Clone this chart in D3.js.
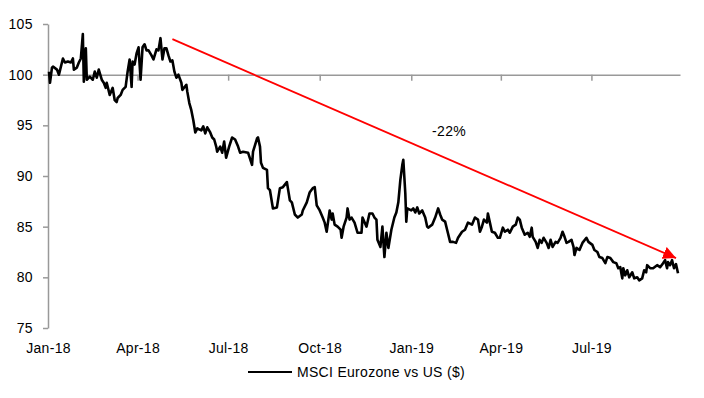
<!DOCTYPE html>
<html>
<head>
<meta charset="utf-8">
<script src="https://cdn.jsdelivr.net/npm/d3@7"></script>
<style>
  body { margin: 0; background: #fff; }
  svg { display: block; font-family: "Liberation Sans", Arial, sans-serif; }
</style>
</head>
<body>
<svg id="chart" width="704" height="398"></svg>
<script>
// MSCI Eurozone vs US ($)
const dates = [
  "2018-01-02","2018-01-03","2018-01-05","2018-01-06","2018-01-10","2018-01-12","2018-01-15","2018-01-16","2018-01-18","2018-01-21",
  "2018-01-24","2018-01-26","2018-01-27","2018-01-30","2018-02-01","2018-02-03","2018-02-05","2018-02-06","2018-02-08","2018-02-09",
  "2018-02-12","2018-02-15","2018-02-17","2018-02-19","2018-02-21","2018-02-24","2018-02-26","2018-02-28","2018-03-01","2018-03-04",
  "2018-03-07","2018-03-09","2018-03-11","2018-03-12","2018-03-15","2018-03-17","2018-03-20","2018-03-22","2018-03-24","2018-03-26",
  "2018-03-27","2018-03-29","2018-03-31","2018-04-02","2018-04-04","2018-04-06","2018-04-08","2018-04-10","2018-04-12","2018-04-15",
  "2018-04-17","2018-04-20","2018-04-22","2018-04-24","2018-04-26","2018-04-28","2018-04-30","2018-05-02","2018-05-04","2018-05-06",
  "2018-05-08","2018-05-10","2018-05-12","2018-05-15","2018-05-16","2018-05-20","2018-05-21","2018-05-23","2018-05-25","2018-05-27",
  "2018-05-29","2018-05-31","2018-06-04","2018-06-06","2018-06-08","2018-06-10","2018-06-13","2018-06-15","2018-06-17","2018-06-19",
  "2018-06-20","2018-06-23","2018-06-25","2018-06-27","2018-06-29","2018-07-02","2018-07-05","2018-07-08","2018-07-11","2018-07-13",
  "2018-07-16","2018-07-21","2018-07-25","2018-07-26","2018-07-30","2018-07-31","2018-08-02","2018-08-03","2018-08-05","2018-08-09",
  "2018-08-10","2018-08-12","2018-08-15","2018-08-19","2018-08-22","2018-08-25","2018-08-29","2018-08-30","2018-09-01","2018-09-03",
  "2018-09-06","2018-09-09","2018-09-13","2018-09-14","2018-09-18","2018-09-21","2018-09-24","2018-09-26","2018-09-28","2018-10-01",
  "2018-10-04","2018-10-06","2018-10-08","2018-10-09","2018-10-11","2018-10-13","2018-10-14","2018-10-16","2018-10-19","2018-10-22",
  "2018-10-23","2018-10-25","2018-10-28","2018-10-29","2018-10-31","2018-11-02","2018-11-05","2018-11-08","2018-11-12","2018-11-13",
  "2018-11-17","2018-11-20","2018-11-23","2018-11-25","2018-11-27","2018-11-28","2018-12-01","2018-12-03","2018-12-05","2018-12-07",
  "2018-12-09","2018-12-12","2018-12-15","2018-12-17","2018-12-19","2018-12-21","2018-12-23","2018-12-24","2018-12-26","2018-12-27",
  "2018-12-28","2019-01-01","2019-01-03","2019-01-05","2019-01-07","2019-01-09","2019-01-12","2019-01-15","2019-01-17","2019-01-18",
  "2019-01-22","2019-01-25","2019-01-28","2019-01-30","2019-02-01","2019-02-04","2019-02-06","2019-02-09","2019-02-12","2019-02-15",
  "2019-02-17","2019-02-21","2019-02-24","2019-02-27","2019-03-03","2019-03-06","2019-03-09","2019-03-11","2019-03-13","2019-03-15",
  "2019-03-18","2019-03-19","2019-03-21","2019-03-23","2019-03-26","2019-03-29","2019-03-31","2019-04-03","2019-04-05","2019-04-08",
  "2019-04-10","2019-04-13","2019-04-16","2019-04-18","2019-04-20","2019-04-22","2019-04-25","2019-04-28","2019-04-30","2019-05-02",
  "2019-05-03","2019-05-06","2019-05-08","2019-05-10","2019-05-12","2019-05-14","2019-05-17","2019-05-19","2019-05-21","2019-05-23",
  "2019-05-26","2019-05-28","2019-05-31","2019-06-02","2019-06-04","2019-06-06","2019-06-08","2019-06-11","2019-06-13","2019-06-14",
  "2019-06-16","2019-06-19","2019-06-22","2019-06-26","2019-06-28","2019-07-02","2019-07-04","2019-07-07","2019-07-09","2019-07-12",
  "2019-07-15","2019-07-17","2019-07-20","2019-07-23","2019-07-26","2019-07-28","2019-07-30","2019-08-01","2019-08-02","2019-08-04",
  "2019-08-06","2019-08-08","2019-08-11","2019-08-13","2019-08-16","2019-08-18","2019-08-21","2019-08-23","2019-08-25","2019-08-26",
  "2019-08-29","2019-09-01","2019-09-05","2019-09-08","2019-09-11","2019-09-13","2019-09-15","2019-09-16","2019-09-18","2019-09-20",
  "2019-09-22","2019-09-24","2019-09-26"
];
const values = [
  100.3, 99.2,100.7,100.8,100.5,100.0,101.2,101.6,101.2,101.3,
  101.2,101.6,100.5,100.7,101.2,101.6,104.0, 99.3,102.6, 99.5,
   99.8, 99.5,100.3, 99.7,100.5, 99.5, 99.2, 98.7, 99.2, 98.0,
   98.7, 97.5, 97.3, 97.7, 98.0, 98.5, 98.8,100.3,101.5, 98.8,
  101.3,101.0,102.1,102.7, 99.5,102.7,103.0,102.4,102.4,101.9,
  101.5,102.5,102.4,103.6,101.5,102.6,102.6,101.9,101.3,101.4,
  100.3, 99.7,100.0, 99.2, 98.5, 99.0, 98.3, 97.2, 96.5, 95.5,
   94.3, 94.7, 94.5, 94.9, 94.2, 94.8, 94.3, 93.8, 93.6, 92.9,
   92.4, 92.9, 92.3, 93.4, 91.8, 92.9, 93.8, 93.6, 92.9, 92.3,
   92.4, 92.3, 91.1, 92.4, 93.7, 93.8, 92.9, 91.3, 90.8, 90.6,
   88.8, 88.6, 86.8, 86.9, 88.8, 88.9, 89.4, 88.8, 87.6, 87.4,
   86.2, 85.9, 86.2, 86.6, 87.4, 88.4, 88.8, 88.9, 87.1, 86.6,
   85.9, 85.4, 84.5, 85.2, 86.6, 85.7, 86.3, 85.2, 85.0, 84.7,
   83.9, 85.0, 85.9, 86.8, 85.7, 85.9, 85.4, 84.4, 84.4, 85.9,
   85.0, 86.3, 86.3, 85.9, 85.7, 83.7, 83.0, 85.0, 82.0, 84.4,
   82.9, 84.7, 85.9, 86.4, 87.4, 89.6, 91.1, 91.6, 88.3, 85.5,
   86.8, 86.6, 86.8, 86.4, 86.9, 86.3, 86.6, 85.9, 85.0, 84.9,
   85.2, 85.9, 86.8, 86.2, 85.7, 85.5, 84.7, 83.5, 83.5, 83.4,
   83.9, 84.5, 84.7, 85.4, 85.2, 85.9, 85.7, 84.5, 85.0, 85.7,
   85.4, 86.3, 85.4, 84.5, 84.4, 83.9, 83.9, 84.9, 84.5, 84.7,
   84.4, 85.0, 85.2, 85.9, 85.7, 84.9, 84.2, 84.4, 84.0, 84.9,
   84.0, 83.5, 82.9, 83.7, 83.4, 83.9, 83.4, 82.9, 83.7, 83.0,
   83.5, 83.4, 83.9, 84.5, 84.0, 83.4, 83.5, 83.7, 83.0, 82.2,
   82.9, 82.7, 83.4, 83.9, 83.5, 83.2, 82.7, 82.5, 82.0, 81.9,
   81.4, 82.0, 81.9, 81.5, 81.4, 80.9, 81.0, 79.9, 80.9, 80.2,
   80.7, 80.0, 80.5, 79.9, 80.0, 79.7, 79.9, 80.7, 80.5, 81.2,
   80.9, 80.9, 81.2, 81.0, 81.4, 81.7, 80.9, 81.5, 81.2, 81.7,
   80.9, 81.3, 80.4
];

const yTicks = [75, 80, 85, 90, 95, 100, 105];
const xTicks = ["2018-01-01","2018-04-01","2018-07-01","2018-10-01","2019-01-01","2019-04-01","2019-07-01"];
const xDomain = ["2018-01-01", "2019-09-28"];
const seriesName = "MSCI Eurozone vs US ($)";

// red trend arrow and its label
const trendStart = ["2018-05-06", 103.5];
const trendEnd = ["2019-09-24", 81.9];
const trendText = "-22%";
const trendTextAt = ["2019-02-08", 94.4];

const parse = d3.timeParse("%Y-%m-%d");
const data = dates.map((d, i) => ({date: parse(d), value: values[i]}));

const svg = d3.select("#chart");

const x = d3.scaleTime()
  .domain(xDomain.map(parse))
  .range([48, 680]);
const y = d3.scaleLinear()
  .domain([75, 105])
  .range([328, 24]);

const axisColor = "#999";

// y axis
const yAxis = svg.append("g")
  .attr("transform", "translate(48,0)")
  .call(d3.axisLeft(y).tickValues(yTicks).tickSize(5).tickSizeOuter(0).tickPadding(10));
yAxis.select(".domain").attr("stroke", axisColor).attr("stroke-width", 1.5);
yAxis.selectAll(".tick line").attr("stroke", axisColor).attr("stroke-width", 1.5);
yAxis.selectAll(".tick text")
  .attr("fill", "#000")
  .style("font-size", "14px")
  .style("letter-spacing", "0.4px")
  .style("font-family", "Liberation Sans, Arial, sans-serif");

// horizontal axis crossing at 100
const xAxis = svg.append("g")
  .attr("transform", "translate(0," + y(100) + ")")
  .call(d3.axisBottom(x).tickValues(xTicks.slice(1).map(parse)).tickSize(6).tickSizeOuter(0).tickFormat(""));
xAxis.select(".domain").attr("stroke", axisColor).attr("stroke-width", 1.5);
xAxis.selectAll(".tick line").attr("stroke", axisColor).attr("stroke-width", 1.5);

// date labels at the bottom
const xLabels = svg.append("g")
  .attr("transform", "translate(0,328)")
  .call(d3.axisBottom(x).tickValues(xTicks.map(parse)).tickSize(0).tickPadding(15).tickFormat(d3.timeFormat("%b-%y")));
xLabels.select(".domain").remove();
xLabels.selectAll(".tick text")
  .attr("fill", "#000")
  .style("font-size", "14px")
  .style("letter-spacing", "0.3px")
  .style("font-family", "Liberation Sans, Arial, sans-serif");

// series line
const line = d3.line()
  .x(d => x(d.date))
  .y(d => y(d.value));

svg.append("path")
  .datum(data)
  .attr("fill", "none")
  .attr("stroke", "#000")
  .attr("stroke-width", 2.6)
  .attr("stroke-linejoin", "round")
  .attr("d", line);

// arrow
svg.append("defs").append("marker")
  .attr("id", "arrow")
  .attr("viewBox", "0 0 10 10")
  .attr("refX", 10)
  .attr("refY", 5)
  .attr("markerUnits", "userSpaceOnUse")
  .attr("markerWidth", 13)
  .attr("markerHeight", 14)
  .attr("orient", "auto")
  .append("path")
  .attr("d", "M0,0L10,5L0,10Z")
  .attr("fill", "#ff0000");

svg.append("line")
  .attr("x1", x(parse(trendStart[0])))
  .attr("y1", y(trendStart[1]))
  .attr("x2", x(parse(trendEnd[0])))
  .attr("y2", y(trendEnd[1]))
  .attr("stroke", "#ff0000")
  .attr("stroke-width", 1.8)
  .attr("marker-end", "url(#arrow)");

svg.append("text")
  .attr("x", x(parse(trendTextAt[0])))
  .attr("y", y(trendTextAt[1]))
  .attr("text-anchor", "middle")
  .attr("dy", "0.35em")
  .style("font-size", "14px")
  .style("letter-spacing", "0.4px")
  .text(trendText);

// legend
const legend = svg.append("g").attr("transform", "translate(248,372)");
legend.append("line")
  .attr("x1", 0).attr("x2", 44)
  .attr("stroke", "#000")
  .attr("stroke-width", 2);
legend.append("text")
  .attr("x", 49)
  .attr("dy", "0.35em")
  .style("font-size", "14px")
  .style("letter-spacing", "0.3px")
  .text(seriesName);
</script>
</body>
</html>
